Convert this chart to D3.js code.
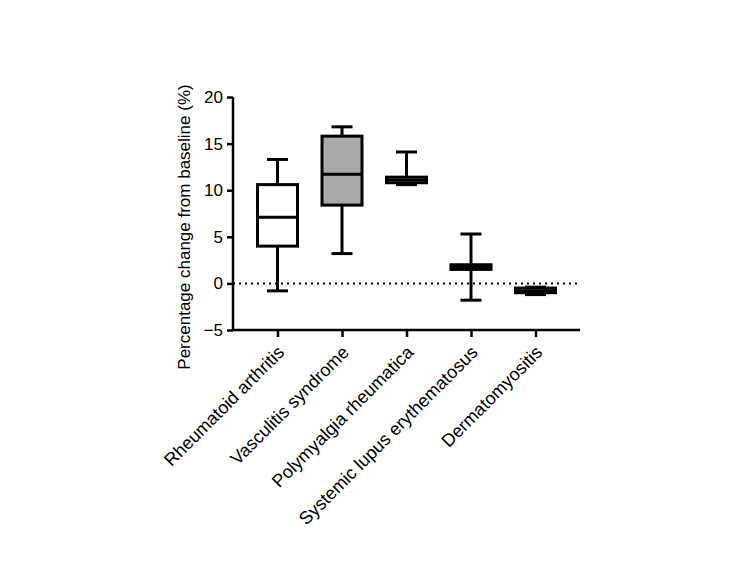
<!DOCTYPE html>
<html>
<head>
<meta charset="utf-8">
<script src="https://cdn.jsdelivr.net/npm/d3@7"></script>
<style>
  body { margin: 0; background: #fff; }
  text { font-family: "Liberation Sans", Arial, sans-serif; fill: #000; }
</style>
</head>
<body>
<div id="chart"></div>
<script>
// data
var groups = ["Rheumatoid arthritis", "Vasculitis syndrome", "Polymyalgia rheumatica",
  "Systemic lupus erythematosus", "Dermatomyositis"];
var mins = [-0.8, 3.2, 10.6, -1.8, -1.2];
var q1s = [4.0, 8.4, 10.8, 1.5, -1.0];
var medians = [7.1, 11.7, 11.1, 1.8, -0.8];
var q3s = [10.6, 15.8, 11.4, 2.0, -0.5];
var maxs = [13.3, 16.8, 14.1, 5.3, -0.4];
var fills = ["#fff", "#aaaaaa", "#fff", "#fff", "#fff"];
var yTicks = [-5, 0, 5, 10, 15, 20];

var data = groups.map(function (g, i) {
  return { key: g, min: mins[i], q1: q1s[i], med: medians[i], q3: q3s[i], max: maxs[i], fill: fills[i] };
});

var width = 750, height = 563;
var svg = d3.select("#chart").append("svg")
  .attr("width", width).attr("height", height);

var x = d3.scalePoint().domain(groups).range([233, 580]).padding(0.69);
var y = d3.scaleLinear().domain([-5, 20]).range([330, 97]);

var boxW = 40, capW = 21;

// y axis
var yAxis = svg.append("g")
  .attr("transform", "translate(233,0)")
  .call(d3.axisLeft(y).tickValues(yTicks).tickSize(6).tickPadding(4));
yAxis.select(".domain").attr("stroke-width", 2.5).attr("d", "M0," + y(20) + "V" + y(-5));
yAxis.selectAll(".tick line").attr("stroke-width", 2.5);
yAxis.selectAll(".tick text").style("font-size", "17px");

// x axis
var xAxis = svg.append("g")
  .attr("transform", "translate(0,330)")
  .call(d3.axisBottom(x).tickSize(7));
xAxis.select(".domain").attr("stroke-width", 2.5).attr("d", "M233,0H580");
xAxis.selectAll(".tick line").attr("stroke-width", 2.5);
xAxis.selectAll(".tick text")
  .style("font-size", "18px")
  .attr("text-anchor", "end")
  .attr("dy", "0.35em")
  .attr("transform", "translate(3,19) rotate(-45)")
  .attr("x", 0).attr("y", 0);

// zero line
svg.append("line")
  .attr("x1", 233).attr("x2", 580)
  .attr("y1", y(0)).attr("y2", y(0))
  .attr("stroke", "#000").attr("stroke-width", 2)
  .attr("stroke-dasharray", "2,4");

// boxes
var g = svg.selectAll(".box").data(data).enter().append("g").attr("class", "box");
g.append("line")
  .attr("x1", d => x(d.key)).attr("x2", d => x(d.key))
  .attr("y1", d => y(d.min)).attr("y2", d => y(d.max))
  .attr("stroke", "#000").attr("stroke-width", 3);
g.append("line")
  .attr("x1", d => x(d.key) - capW / 2).attr("x2", d => x(d.key) + capW / 2)
  .attr("y1", d => y(d.max)).attr("y2", d => y(d.max))
  .attr("stroke", "#000").attr("stroke-width", 3);
g.append("line")
  .attr("x1", d => x(d.key) - capW / 2).attr("x2", d => x(d.key) + capW / 2)
  .attr("y1", d => y(d.min)).attr("y2", d => y(d.min))
  .attr("stroke", "#000").attr("stroke-width", 3);
g.append("rect")
  .attr("x", d => x(d.key) - boxW / 2).attr("width", boxW)
  .attr("y", d => y(d.q3)).attr("height", d => y(d.q1) - y(d.q3))
  .attr("fill", d => d.fill).attr("stroke", "#000").attr("stroke-width", 3);
g.append("line")
  .attr("x1", d => x(d.key) - boxW / 2).attr("x2", d => x(d.key) + boxW / 2)
  .attr("y1", d => y(d.med)).attr("y2", d => y(d.med))
  .attr("stroke", "#000").attr("stroke-width", 3);

// y label
svg.append("text")
  .attr("transform", "translate(190,227) rotate(-90)")
  .attr("text-anchor", "middle")
  .style("font-size", "17px")
  .text("Percentage change from baseline (%)");
</script>
</body>
</html>
